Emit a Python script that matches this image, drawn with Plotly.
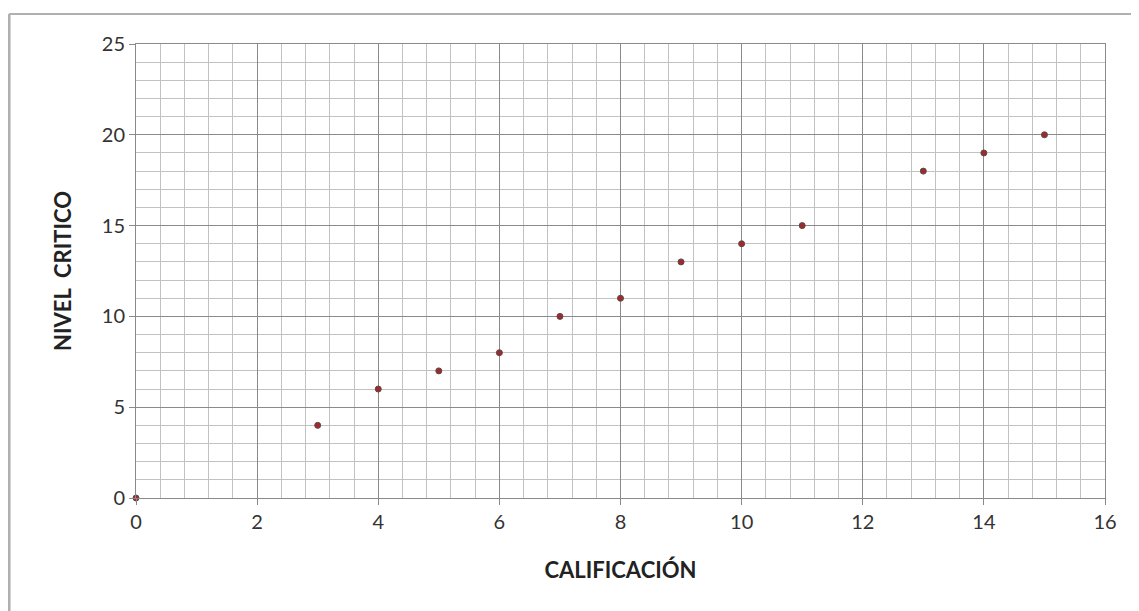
import plotly.graph_objects as go

calificacion = [0, 3, 4, 5, 6, 7, 8, 9, 10, 11, 13, 14, 15]
nivel_critico = [0, 4, 6, 7, 8, 10, 11, 13, 14, 15, 18, 19, 20]

x_title = "CALIFICACIÓN"
y_title = "NIVEL  CRITICO"

fig = go.Figure()
fig.add_trace(go.Scatter(
    x=calificacion, y=nivel_critico, mode="markers",
    marker=dict(size=6, color="#a0292b", line=dict(color="#5a4a4a", width=1)),
    showlegend=False, cliponaxis=False,
))

font = dict(family="Lato, Open Sans, sans-serif", size=20, color="#333333")

fig.update_layout(
    width=1131, height=603,
    margin=dict(l=128, r=34, t=36, b=113),
    paper_bgcolor="white", plot_bgcolor="white",
    font=font,
    xaxis=dict(
        range=[0, 16], dtick=2, tick0=0,
        showgrid=True, gridcolor="#8a8a8a", gridwidth=1,
        minor=dict(dtick=0.4, tick0=0, showgrid=True, gridcolor="#c2c2c2", gridwidth=1),
        ticks="outside", ticklen=6, tickcolor="#8a8a8a",
        showline=True, linecolor="#8a8a8a", linewidth=1, mirror=True,
        zeroline=False,
        title=dict(text=f"<b>{x_title}</b>", font=dict(size=22, color="#222222"), standoff=30),
        tickfont=dict(size=20, color="#333333"),
    ),
    yaxis=dict(
        range=[0, 25], dtick=5, tick0=0,
        showgrid=True, gridcolor="#8a8a8a", gridwidth=1,
        minor=dict(dtick=1, tick0=0, showgrid=True, gridcolor="#c2c2c2", gridwidth=1),
        ticks="outside", ticklen=6, tickcolor="#8a8a8a",
        showline=True, linecolor="#8a8a8a", linewidth=1, mirror=True,
        zeroline=False,
        title=dict(text=f"<b>{y_title}</b>", font=dict(size=22, color="#222222"), standoff=24),
        tickfont=dict(size=20, color="#333333"),
    ),
    shapes=[
        dict(type="line", xref="paper", yref="paper", x0=-0.131, x1=1.04, y0=1.066, y1=1.066,
             line=dict(color="#b0b0b0", width=2)),
        dict(type="line", xref="paper", yref="paper", x0=-0.131, x1=-0.131, y0=1.066, y1=-0.26,
             line=dict(color="#b0b0b0", width=3)),
    ],
)

fig.write_html("out.html")
